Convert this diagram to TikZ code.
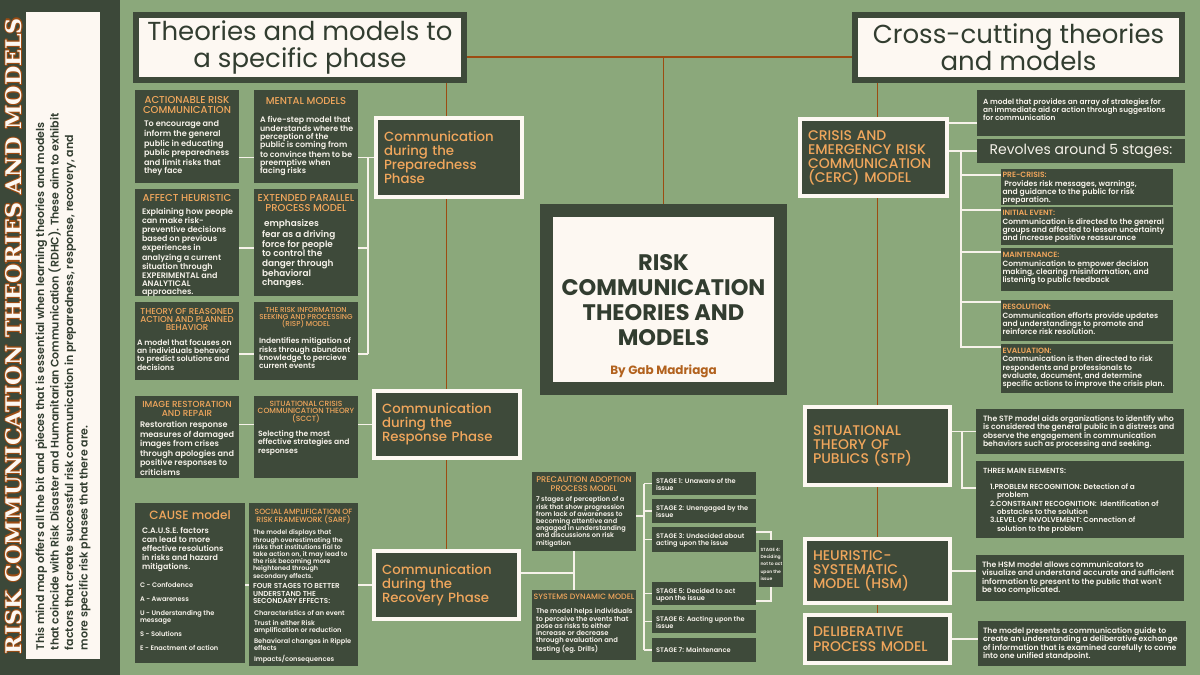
\documentclass[tikz,border=0pt]{standalone}
\usepackage{fontspec}
\setmainfont{Poppins}
\IfFontExistsTF{Poppins Medium}{\newfontfamily\medfont{Poppins Medium}}{\newcommand\medfont{\normalfont}}
\IfFontExistsTF{Poppins SemiBold}{\newfontfamily\semifont{Poppins SemiBold}}{\newcommand\semifont{\bfseries}}
\newfontfamily\slabfont{DejaVu Serif}
\usetikzlibrary{calc,backgrounds}

\definecolor{sage}{RGB}{139,168,123}
\definecolor{dkgreen}{RGB}{62,74,58}
\definecolor{sidegreen}{RGB}{60,72,57}
\definecolor{boxorange}{RGB}{240,166,92}
\definecolor{brownln}{RGB}{156,76,18}
\definecolor{cream}{RGB}{253,248,242}
\definecolor{inkgreen}{RGB}{50,61,48}
\definecolor{bytext}{RGB}{178,98,30}
\definecolor{offwhite}{RGB}{246,242,234}

% box text: width, height, x pad, y pad, content
\newcommand\bx[5]{\parbox[c][#2pt][t]{#1pt}{\vspace*{#4pt}\noindent\hspace*{#3pt}\parbox[t]{\dimexpr#1pt-#3pt-#3pt\relax}{#5}}}
\newcommand\ttl[3]{{\centering\leftskip=-20pt plus 1fil\rightskip=-20pt plus 1fil\medfont\color{boxorange}\fontsize{#1}{#2}\selectfont #3\par}}
\newcommand\bdy[4][0]{{\raggedright\leftskip=#1pt\rightskip=-40pt plus 1fil\semifont\fontsize{#2}{#3}\selectfont #4\par}}

\begin{document}
\begin{tikzpicture}[x=1pt,y=-1pt,
  dkbox/.style={fill=dkgreen,text=offwhite,inner sep=0pt,outer sep=0pt,anchor=north west},
  phbox/.style={fill=dkgreen,draw=cream,line width=4pt,text=boxorange,inner xsep=8pt,inner ysep=0pt,outer sep=0pt,anchor=north west,align=left,font={\medfont\fontsize{13.3}{14}\selectfont}},
  headbox/.style={fill=cream,draw=dkgreen,line width=6pt,text=inkgreen,inner sep=0pt,outer sep=0pt,anchor=north west,align=center,font={\fontsize{26}{27}\selectfont}},
  wline/.style={draw=offwhite,line width=1.8pt},
  bline/.style={draw=brownln,line width=1.6pt}]

\begin{scope}[on background layer]
\fill[sage] (0,0) rectangle (1200,675);
\end{scope}
\useasboundingbox (0,0) rectangle (1200,675);

% side panel
\fill[sidegreen] (0,0) rectangle (120,675);
\node[fill=cream,text=inkgreen,rotate=90,minimum width=647pt,minimum height=74pt,inner xsep=9pt,inner ysep=0pt] (note) at (63,335.5) {\parbox{629pt}{\semifont\fontsize{11}{14.5}\selectfont\raggedright\rightskip=-30pt plus 1fil This mind map offers all the bit and pieces that is essential when learning theories and models\\that coincide with Risk Disaster and Humanitarian Communication (RDHC). These aim to exhibit\\factors that create successful risk communication in preparedness, response, recovery, and\\more specific risk phases that there are.}};
\foreach \a in {0,45,...,315}
  \node[rotate=90,text=brownln,inner sep=0pt] (edge\a) at ($(14,336)+(\a:1.1)$) {\resizebox{636pt}{16pt}{\slabfont\bfseries RISK COMMUNICATION THEORIES AND MODELS}};
\node[rotate=90,text=cream,inner sep=0pt] (sidetitle) at (14,336) {\resizebox{636pt}{16pt}{\slabfont\bfseries RISK COMMUNICATION THEORIES AND MODELS}};

% headers and title
\node[headbox,minimum width=328pt,minimum height=65.5pt] (lhead) at (136,14.5) {Theories and models to\\a specific phase};
\node[headbox,minimum width=327pt,minimum height=65.5pt] (rhead) at (855,14.5) {Cross-cutting theories\\and models};
\node[fill=cream,draw=dkgreen,line width=13pt,inner sep=0pt,outer sep=0pt,anchor=north west] (title) at (546.5,210) {\bx{234}{178}{0}{44}{{\centering\bfseries\color{inkgreen}\fontsize{22.5}{25}\selectfont RISK\\COMMUNICATION\\THEORIES AND\\MODELS\par}\vspace{15pt}{\centering\bfseries\color{bytext}\fontsize{12}{14}\selectfont By Gab Madriaga\par}}};

% phases
\node[phbox,minimum width=146pt,minimum height=79pt,text width=130pt] (prep) at (376,118) {Communication\\during the\\Preparedness\\Phase};
\node[phbox,minimum width=146pt,minimum height=67pt,text width=130pt] (resp) at (374,391) {Communication\\during the\\Response Phase};
\node[phbox,minimum width=145pt,minimum height=68pt,text width=129pt] (rec) at (374,551) {Communication\\during the\\Recovery Phase};

% preparedness models
\node[dkbox] (arc) at (135,90) {\bx{104}{93}{3}{6.5}{\ttl{10}{10}{ACTIONABLE RISK\\COMMUNICATION}\vspace{5pt}\bdy[6]{8.1}{8.4}{To encourage and\\inform the general\\public in educating\\public preparedness\\and limit risks that\\they face}}};
\node[dkbox] (mm) at (254,90) {\bx{104}{93}{3}{7.5}{\ttl{10}{10}{MENTAL MODELS}\vspace{10pt}\bdy[3]{7.9}{8.3}{A five-step model that\\understands where the\\perception of the\\public is coming from\\to convince them to be\\preemptive when\\facing risks}}};
\node[dkbox] (ah) at (135,189) {\bx{104}{107}{3}{5.5}{\ttl{10}{10}{AFFECT HEURISTIC}\vspace{4.5pt}\bdy[4]{8}{8.3}{Explaining how people\\can make risk-\\preventive decisions\\based on previous\\experiences in\\analyzing a current\\situation through\\EXPERIMENTAL and\\ANALYTICAL\\approaches.}}};
\node[dkbox] (eppm) at (254,189) {\bx{104}{107}{3}{5.5}{\ttl{10}{10}{EXTENDED PARALLEL\\PROCESS MODEL}\vspace{6pt}\bdy[5]{8.9}{9.3}{\ emphasizes\\fear as a driving\\force for people\\to control the\\danger through\\behavioral\\changes.}}};
\node[dkbox] (tra) at (135,302) {\bx{104}{78}{2}{6}{\ttl{8.6}{8.2}{THEORY OF REASONED\\ACTION AND PLANNED\\BEHAVIOR}\vspace{7pt}\bdy{7.7}{8}{A model that focuses on\\an individuals behavior\\to predict solutions and\\decisions}}};
\node[dkbox] (risp) at (254,302) {\bx{104}{78}{3}{5.2}{\ttl{7.2}{7.2}{THE RISK INFORMATION\\SEEKING AND PROCESSING\\(RISP) MODEL}\vspace{9pt}\bdy[2]{7.6}{8.3}{Indentifies mitigation of\\risks through abundant\\knowledge to percieve\\current events}}};

% response models
\node[dkbox] (irr) at (135,396) {\bx{104}{82}{3}{5.5}{\ttl{8.8}{8.4}{IMAGE RESTORATION\\AND REPAIR}\vspace{3.5pt}\bdy[2]{8.1}{8}{Restoration response\\measures of damaged\\images from crises\\through apologies and\\positive responses to\\criticisms}}};
\node[dkbox] (scct) at (254,396) {\bx{104}{82}{3}{5.3}{\ttl{7.5}{7.3}{SITUATIONAL CRISIS\\COMMUNICATION THEORY\\(SCCT)}\vspace{7pt}\bdy[1]{7.6}{8.3}{Selecting the most\\effective strategies and\\responses}}};

% recovery models
\node[dkbox] (cause) at (135,503) {\bx{110}{160}{3}{8}{\ttl{12}{12}{CAUSE model}\vspace{5pt}\bdy[4]{7.9}{9}{C.A.U.S.E. factors\\can lead to more\\effective resolutions\\in risks and hazard\\mitigations.}\vspace{9pt}\bdy[2]{6.6}{7.3}{C - Confodence}\vspace{6.7pt}\bdy[2]{6.6}{7.3}{A - Awareness}\vspace{6.7pt}\bdy[2]{6.6}{7.3}{U - Understanding the\\message}\vspace{6.7pt}\bdy[2]{6.6}{7.3}{S - Solutions}\vspace{6.7pt}\bdy[2]{6.6}{7.3}{E - Enactment of action}}};
\node[dkbox] (sarf) at (249,503) {\bx{109}{163}{2}{6.4}{\ttl{7.6}{8}{SOCIAL AMPLIFICATION OF\\RISK FRAMEWORK (SARF)}\vspace{5pt}\bdy[2]{6.4}{7.2}{The model displays that\\through overestimating the\\risks that institutions fial to\\take action on, it may lead to\\the risk becoming more\\heightened through\\secondary effects.}\vspace{3pt}\bdy[2]{7.2}{7.5}{FOUR STAGES TO BETTER\\UNDERSTAND THE\\SECONDARY EFFECTS:}\vspace{4.5pt}\bdy[3]{6.6}{7.2}{Characteristics of an event}\vspace{3pt}\bdy[3]{6.6}{7.2}{Trust in either Risk\\amplification or reduction}\vspace{3.5pt}\bdy[3]{6.6}{7.2}{Behavioral changes in Ripple\\effects}\vspace{3.5pt}\bdy[3]{6.6}{7.2}{Impacts/consequences}}};
\node[dkbox] (pam) at (532,472) {\bx{104}{79}{3}{5}{\ttl{8.2}{9}{PRECAUTION ADOPTION\\PROCESS MODEL}\vspace{3pt}\bdy[1]{6.6}{7.2}{7 stages of perception of a\\risk that show progression\\from lack of awareness to\\becoming attentive and\\engaged in understanding\\and discussions on risk\\mitigation}}};
\node[dkbox] (sdm) at (532,590) {\bx{104}{70}{3}{4.2}{\ttl{7.8}{8}{SYSTEMS DYNAMIC MODEL}\vspace{7pt}\bdy[1]{6.8}{7.2}{The model helps individuals\\to perceive the events that\\pose as risks to either\\increase or decrease\\through evaluation and\\testing (eg. Drills)}}};

% precaution stages
\node[dkbox] (s1) at (652,472) {\bx{104}{23}{3}{6.3}{\bdy[1]{6.6}{7.3}{STAGE 1: Unaware of the\\issue}}};
\node[dkbox] (s2) at (652,499) {\bx{104}{24}{3}{6.3}{\bdy[1]{6.6}{7.3}{STAGE 2: Unengaged by the\\issue}}};
\node[dkbox] (s3) at (652,527) {\bx{104}{25}{3}{6.3}{\bdy[1]{6.6}{7.3}{STAGE 3: Undecided about\\acting upon the issue}}};
\node[dkbox] (s4) at (759,540) {\bx{24}{47}{1.5}{8}{\bdy{4.5}{7.3}{STAGE 4:\\Deciding\\not to act\\upon the\\issue}}};
\node[dkbox] (s5) at (652,582) {\bx{104}{23}{3}{6.3}{\bdy[1]{6.6}{7.3}{STAGE 5: Decided to act\\upon the issue}}};
\node[dkbox] (s6) at (652,610) {\bx{104}{23}{3}{6.3}{\bdy[1]{6.6}{7.3}{STAGE 6: Aacting upon the\\issue}}};
\node[dkbox] (s7) at (652,638) {\bx{104}{24}{3}{9.3}{\bdy[1]{6.6}{7.3}{STAGE 7: Maintenance}}};

% cross-cutting models
\node[phbox,minimum width=147pt,minimum height=77pt,text width=131pt,font={\medfont\fontsize{14}{14}\selectfont}] (cerc) at (800,119) {CRISIS AND\\EMERGENCY RISK\\COMMUNICATION\\(CERC) MODEL};
\node[phbox,minimum width=145pt,minimum height=78pt,text width=129pt,font={\medfont\fontsize{14}{14}\selectfont}] (stp) at (805,407) {SITUATIONAL\\THEORY OF\\PUBLICS (STP)};
\node[phbox,minimum width=145pt,minimum height=64pt,text width=129pt,font={\medfont\fontsize{14}{14}\selectfont}] (hsm) at (805,539) {HEURISTIC-\\SYSTEMATIC\\MODEL (HSM)};
\node[phbox,minimum width=145pt,minimum height=48pt,text width=129pt,font={\medfont\fontsize{14}{14.5}\selectfont}] (dpm) at (805,615) {DELIBERATIVE\\PROCESS MODEL};

\node[dkbox] (cercd) at (977,90) {\bx{208}{46}{3}{8.5}{\bdy[3]{7.4}{8.3}{A model that provides an array of strategies for\\an immediate aid or action through suggestions\\for communication}}};
\node[dkbox,minimum width=208pt,minimum height=24pt,font={\fontsize{14}{14}\selectfont}] (rev) at (977,139) {Revolves around 5 stages:};
\node[dkbox] (pc) at (1001,169) {\bx{172}{36}{1.5}{3.3}{\bdy{7.6}{8.4}{{\color{boxorange}PRE-CRISIS:}\\\ Provides risk messages, warnings,\\and guidance to the public for risk\\preparation.}}};
\node[dkbox] (ie) at (1001,207) {\bx{172}{38}{1.5}{3.3}{\bdy{7.6}{8.4}{{\color{boxorange}INITIAL EVENT:}\\Communication is directed to the general\\groups and affected to lessen uncertainty\\and increase positive reassurance}}};
\node[dkbox] (mt) at (1001,248) {\bx{172}{43}{1.5}{4.3}{\bdy{7.6}{8.4}{{\color{boxorange}MAINTENANCE:}\\Communication to empower decision\\making, clearing misinformation, and\\listening to public feedback}}};
\node[dkbox] (rs) at (1001,300) {\bx{172}{41}{1.5}{4.3}{\bdy{7.6}{8.4}{{\color{boxorange}RESOLUTION:}\\Communication efforts provide updates\\and understandings to promote and\\reinforce risk resolution.}}};
\node[dkbox] (ev) at (1001,344) {\bx{172}{49}{1.5}{4.3}{\bdy{7.6}{8.3}{{\color{boxorange}EVALUATION:}\\Communication is then directed to risk\\respondents and professionals to\\evaluate, document, and determine\\specific actions to improve the crisis plan.}}};

\node[dkbox] (stpd) at (976,409) {\bx{208}{45}{3}{6.5}{\bdy[4]{7.7}{8.3}{The STP model aids organizations to identify who\\is considered the general public in a distress and\\observe the engagement in communication\\behaviors such as processing and seeking.}}};
\node[dkbox] (tme) at (976,461) {\bx{208}{77}{3}{7.3}{\bdy[4]{7.4}{8.3}{THREE MAIN ELEMENTS:}\vspace{7.7pt}\bdy[11]{7.3}{8.3}{1.PROBLEM RECOGNITION: Detection of a\\\hspace*{7pt}problem\\2.CONSTRAINT RECOGNITION:\ \ Identification of\\\hspace*{7pt}obstacles to the solution\\3.LEVEL OF INVOLVEMENT: Connection of\\\hspace*{7pt}solution to the problem}}};
\node[dkbox] (hsmd) at (976,555) {\bx{208}{46}{3}{6.5}{\bdy[3]{7.7}{8.3}{The HSM model allows communicators to\\visualize and understand accurate and sufficient\\information to present to the public that won't\\be too complicated.}}};
\node[dkbox] (dpmd) at (978,621) {\bx{208}{45}{3}{6.5}{\bdy[2]{7.7}{8.3}{The model presents a communication guide to\\create an understanding a deliberative exchange\\of information that is examined carefully to come\\into one unified standpoint.}}};

% connectors
\begin{scope}[on background layer]
\coordinate (bhub) at (663.5,57);
\draw[bline] (lhead.east |- bhub) -- (rhead.west |- bhub);
\draw[bline] (bhub) -- (title.north);
\draw[bline] (lhead.south -| rec.north) -- (rec.north);
\draw[bline] (rhead.south -| dpm.north) -- (dpm.north);

\coordinate (pbus) at (368,157.5);
\coordinate (pb2) at (368,248);
\coordinate (pb3) at (368,354);
\draw[wline] (arc.east |- prep.west) -- (mm.west |- prep.west);
\draw[wline] (mm.east |- prep.west) -- (prep.west);
\draw[wline] (pbus) -- (pb3);
\draw[wline] (ah.east |- pb2) -- (eppm.west |- pb2);
\draw[wline] (eppm.east |- pb2) -- (pb2);
\draw[wline] (tra.east |- pb3) -- (risp.west |- pb3);
\draw[wline] (risp.east |- pb3) -- (pb3);

\draw[wline] (irr.east |- resp.west) -- (scct.west |- resp.west);
\draw[wline] (scct.east |- resp.west) -- (resp.west);

\draw[wline] (cause.east |- rec.west) -- (sarf.west |- rec.west);
\draw[wline] (sarf.east |- rec.west) -- (rec.west);
\coordinate (rbus) at (574,573);
\draw[wline] (rec.east |- rbus) -- (rbus);
\draw[wline] (pam.south -| rbus) -- (sdm.north -| rbus);

\coordinate (sbus) at (644,516);
\draw[wline] (pam.east |- sbus) -- (sbus);
\draw[wline] (sbus |- s1.west) -- (sbus |- s7.west);
\foreach \s in {s1,s2,s3,s5,s6,s7}
  \draw[wline] (sbus |- \s.west) -- (\s.west);
\draw[wline] ($(s3.north east)+(0,5)$) -| (s4.north);
\draw[wline] ($(s5.south east)+(0,-4)$) -| (s4.south);

\coordinate (cj) at (977,123);
\draw[wline] (cerc.east |- cj) -- (cj);
\draw[wline] (cerc.east |- rev.west) -- (rev.west);
\coordinate (cbus) at (961,151);
\draw[wline] (cbus) |- ($(ev.north west)+(0,3)$);
\draw[wline] (pc.north west) ++(0,6) -- ++(-40,0);
\draw[wline] (ie.north west) ++(0,3) -- ++(-40,0);
\draw[wline] (mt.north west) ++(0,4) -- ++(-40,0);
\draw[wline] (rs.north west) ++(0,2) -- ++(-40,0);

\draw[wline] (stp.east |- stpd.west) -- (stpd.west);
\coordinate (tbus) at (962,431.5);
\draw[wline] (tbus) |- ($(tme.north west)+(0,27)$);
\draw[wline] (hsm.east) -- (hsmd.west |- hsm.east);
\draw[wline] (dpm.east) -- (dpmd.west |- dpm.east);
\end{scope}
\end{tikzpicture}
\end{document}
